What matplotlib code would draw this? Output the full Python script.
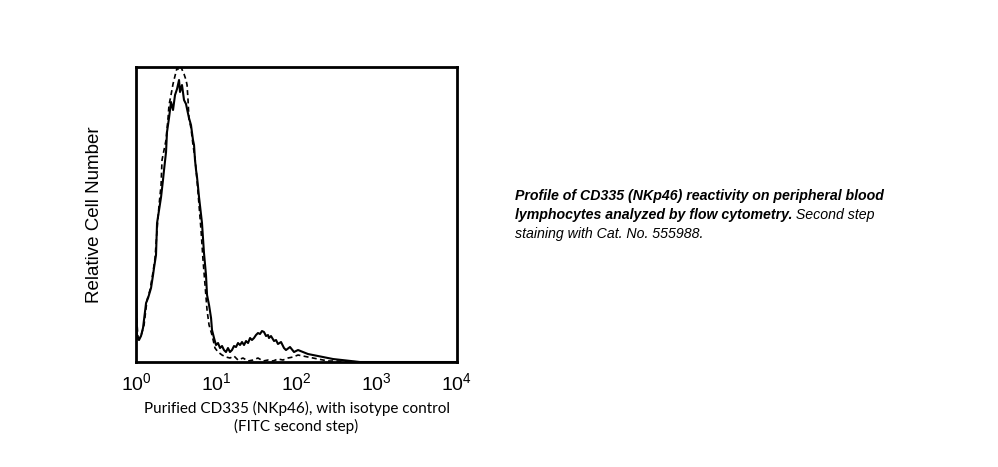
import matplotlib
matplotlib.use("Agg")
import matplotlib.pyplot as plt
import numpy as np

# histogram traces, x in log10 decades, y in relative counts
cd335_log = [0.000, 0.012, 0.037, 0.062, 0.087, 0.125, 0.150, 0.187, 0.212, 0.224,
             0.249, 0.262, 0.287, 0.312, 0.336, 0.349, 0.374, 0.386, 0.411, 0.436,
             0.461, 0.486, 0.511, 0.536, 0.548, 0.573, 0.598, 0.623, 0.636, 0.660,
             0.685, 0.710, 0.723, 0.735, 0.748, 0.760, 0.773, 0.785, 0.822, 0.847,
             0.872, 0.885, 0.910, 0.935, 0.947, 0.972, 0.997, 1.022, 1.047, 1.072,
             1.096, 1.121, 1.146, 1.171, 1.196, 1.221, 1.246, 1.271, 1.296, 1.321,
             1.346, 1.371, 1.396, 1.421, 1.445, 1.470, 1.495, 1.520, 1.545, 1.570,
             1.595, 1.620, 1.645, 1.657, 1.682, 1.720, 1.745, 1.769, 1.807, 1.844,
             1.869, 1.919, 1.969, 2.019, 2.143, 2.268, 2.455, 2.790, 4.000]
cd335_cnt = [72, 24, 22, 26, 34, 59, 64, 74, 87, 94,
             107, 139, 152, 165, 182, 192, 210, 230, 244, 260,
             252, 267, 273, 282, 270, 277, 262, 258, 253, 244,
             237, 222, 217, 202, 192, 185, 175, 165, 139, 109,
             87, 67, 57, 44, 32, 24, 17, 19, 14, 16,
             12, 10, 14, 10, 12, 16, 15, 19, 17, 20,
             17, 21, 19, 24, 22, 24, 27, 29, 28, 31,
             30, 26, 27, 24, 26, 21, 22, 18, 20, 14,
             12, 15, 10, 12, 8, 6, 3, 0, 0]

isotype_log = [0.000, 0.025, 0.062, 0.100, 0.137, 0.174, 0.212, 0.237, 0.262, 0.287,
               0.312, 0.324, 0.349, 0.374, 0.399, 0.411, 0.436, 0.461, 0.473, 0.498,
               0.511, 0.536, 0.561, 0.586, 0.598, 0.623, 0.636, 0.648, 0.660, 0.685,
               0.710, 0.735, 0.760, 0.785, 0.810, 0.835, 0.860, 0.885, 0.910, 0.947,
               0.984, 1.022, 1.072, 1.121, 1.171, 1.221, 1.271, 1.333, 1.396, 1.458,
               1.520, 1.583, 1.645, 1.707, 1.769, 1.832, 1.894, 1.956, 2.019, 2.081,
               2.143, 2.268, 2.393, 2.518, 2.790, 4.000]
isotype_cnt = [52, 24, 26, 37, 62, 72, 90, 104, 132, 157,
               177, 202, 212, 222, 244, 257, 267, 278, 282, 290,
               294, 292, 295, 290, 288, 282, 277, 262, 243, 234,
               217, 204, 182, 157, 132, 102, 77, 52, 37, 27,
               14, 10, 7, 5, 4, 6, 2, 4, 1, 2,
               4, 1, 2, 1, 3, 2, 4, 5, 7, 6,
               5, 3, 1, 1, 0, 0]

tick_labels = [r"$\mathregular{10^{%d}}$" % k for k in range(5)]

plt.rcParams["mathtext.fontset"] = "custom"
plt.rcParams["mathtext.rm"] = "Liberation Sans"

fig = plt.figure(figsize=(9.98, 4.67), dpi=100)
ax = fig.add_axes([0.1363, 0.2248, 0.3216, 0.6317])

ax.plot(10 ** np.array(isotype_log), isotype_cnt, color="black", lw=1.2,
        linestyle=(0, (3, 2)))
ax.plot(10 ** np.array(cd335_log), cd335_cnt, color="black", lw=1.5)

ax.set_xscale("log")
ax.set_xlim(1, 1e4)
ax.set_ylim(0, 295)
ax.set_xticks([1, 10, 100, 1000, 10000])
ax.set_xticklabels(tick_labels, fontsize=14, family="Liberation Sans")
ax.minorticks_off()
ax.set_yticks([])
ax.tick_params(axis="x", length=0, pad=7)
for spine in ax.spines.values():
    spine.set_linewidth(2)

ax.set_xlabel("Purified CD335 (NKp46), with isotype control\n(FITC second step)",
              fontsize=11, family="Lato", linespacing=1.3, labelpad=5)
ax.set_ylabel("Relative Cell Number", fontsize=13.5, family="Liberation Sans",
              labelpad=24)

# caption to the right, bold italic lead followed by italic text
cap = dict(fontsize=10.2, family="Liberation Sans", style="italic")
x0 = 515 / 998
fig.canvas.draw()
r = fig.canvas.get_renderer()
fig.text(x0, 1 - 196 / 467, "Profile of CD335 (NKp46) reactivity on peripheral blood",
         weight="bold", va="center", **cap)
t2 = fig.text(x0, 1 - 215 / 467, "lymphocytes analyzed by flow cytometry.",
              weight="bold", va="center", **cap)
bb = t2.get_window_extent(r)
fig.text(bb.x1 / fig.bbox.width, 1 - 215 / 467, " Second step", va="center", **cap)
fig.text(x0, 1 - 234 / 467, "staining with Cat. No. 555988.", va="center", **cap)

fig.savefig("out.png", dpi=100)
